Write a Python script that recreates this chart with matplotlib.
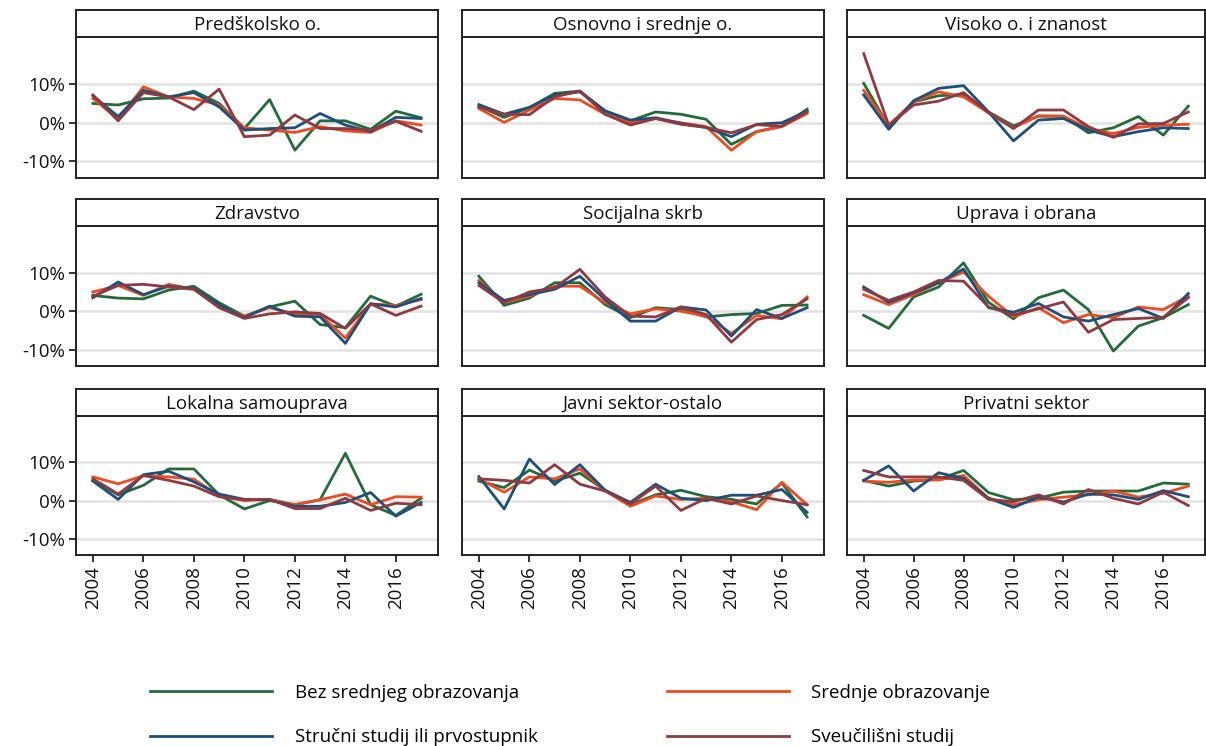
import matplotlib
import matplotlib.pyplot as plt

matplotlib.use('Agg')
plt.rcParams['font.family'] = ['Open Sans', 'DejaVu Sans']

years = list(range(2004, 2018))
panels = ['Predškolsko o.', 'Osnovno i srednje o.', 'Visoko o. i znanost',
          'Zdravstvo', 'Socijalna skrb', 'Uprava i obrana',
          'Lokalna samouprava', 'Javni sektor-ostalo', 'Privatni sektor']
series = ['Bez srednjeg obrazovanja', 'Srednje obrazovanje',
          'Stručni studij ili prvostupnik', 'Sveučilišni studij']
colors = ['#236b3b', '#ee4b22', '#1d4f7a', '#8e3a42']

# growth in %, order: bez, srednje, strucni, sveucilisni
predskolsko = [
    [5.0, 4.6, 6.2, 6.4, 8.2, 5.0, -1.5, 6.0, -7.1, 0.5, 0.5, -1.7, 3.0, 1.3],
    [6.3, 0.9, 9.3, 6.7, 6.3, 4.6, -1.3, -1.9, -2.5, -1.0, -2.1, -2.5, 0.5, -0.6],
    [7.0, 1.6, 8.4, 6.7, 7.8, 4.1, -1.9, -1.5, -1.3, 2.4, -0.6, -2.3, 1.4, 1.1],
    [7.2, 0.5, 7.8, 6.7, 3.4, 8.7, -3.6, -3.2, 2.0, -1.5, -1.5, -1.9, 0.4, -2.2],
]
osnovno = [
    [4.3, 1.4, 3.9, 7.6, 8.2, 3.0, 0.5, 2.8, 2.2, 0.9, -5.6, -2.3, -0.9, 3.5],
    [3.7, 0.1, 3.3, 6.3, 5.9, 2.2, 0.0, 1.1, 0.0, -1.0, -7.1, -2.3, -1.0, 2.4],
    [4.7, 2.2, 4.0, 7.2, 8.0, 3.1, 0.7, 1.3, -0.2, -1.2, -3.6, -0.4, 0.0, 3.0],
    [4.0, 2.2, 2.1, 6.7, 8.2, 2.2, -0.6, 1.1, -0.4, -1.2, -2.6, -0.5, -0.9, 2.8],
]
visoko = [
    [10.2, -1.0, 5.4, 7.0, 7.3, 2.8, -0.8, 1.7, 1.7, -2.6, -1.3, 1.6, -3.2, 4.3],
    [8.4, -0.6, 5.4, 8.0, 6.7, 2.6, -1.3, 1.8, 1.7, -1.5, -2.8, -1.2, -0.6, -0.4],
    [7.2, -1.7, 5.7, 8.9, 9.6, 2.8, -4.7, 0.7, 1.1, -1.9, -3.6, -2.3, -1.3, -1.5],
    [17.9, -0.6, 4.6, 5.6, 7.8, 2.6, -1.5, 3.3, 3.3, -1.0, -3.8, -0.3, -0.2, 2.8],
]
zdravstvo = [
    [4.1, 3.4, 3.2, 5.5, 6.5, 2.2, -1.3, 1.1, 2.6, -3.5, -4.3, 3.9, 1.3, 4.4],
    [5.0, 6.7, 4.1, 7.0, 5.7, 1.3, -1.3, 0.9, -0.7, -0.9, -7.0, 1.9, 1.5, 3.0],
    [3.5, 7.6, 4.3, 6.5, 5.9, 1.7, -1.7, 1.3, -1.3, -1.5, -8.4, 1.9, 1.1, 3.3],
    [3.9, 6.7, 7.0, 6.3, 5.7, 0.9, -1.9, -0.7, -0.2, -0.6, -4.5, 1.9, -1.1, 1.3],
]
socijalna = [
    [9.1, 1.5, 3.4, 7.4, 7.4, 1.7, -1.7, 0.9, 0.4, -1.5, -0.9, -0.6, 1.5, 1.6],
    [8.0, 2.3, 3.9, 6.5, 6.5, 2.2, -0.7, 0.6, 0.0, -1.3, -5.8, -1.1, -2.0, 3.7],
    [7.4, 2.8, 4.3, 5.7, 9.1, 3.0, -2.6, -2.6, 1.1, 0.3, -6.5, 0.4, -1.9, 0.9],
    [6.7, 2.2, 5.0, 6.1, 10.9, 3.7, -1.3, -1.5, 1.1, -0.9, -8.1, -2.2, -0.9, 3.2],
]
uprava = [
    [-1.1, -4.5, 3.7, 6.3, 12.6, 2.3, -2.0, 3.5, 5.5, 0.4, -10.4, -3.9, -1.7, 1.7],
    [4.3, 1.7, 4.3, 7.4, 10.2, 3.9, -1.5, 0.9, -3.0, -0.9, -1.7, 1.1, 0.4, 3.9],
    [6.3, 2.3, 4.8, 7.4, 11.0, 0.9, -0.3, 2.0, -1.5, -2.6, -0.9, 0.7, -1.9, 4.6],
    [5.7, 2.8, 5.0, 8.0, 7.8, 1.1, -1.0, 0.6, 2.4, -5.5, -2.2, -1.9, -1.6, 3.5],
]
lokalna = [
    [5.3, 1.5, 4.0, 8.3, 8.3, 1.5, -2.2, 0.0, -1.1, 0.2, 12.4, -1.1, -3.9, 0.6],
    [6.2, 4.4, 6.5, 6.2, 5.6, 1.2, 0.0, 0.3, -1.1, 0.2, 1.7, -1.1, 1.0, 0.9],
    [5.1, 0.3, 6.8, 7.7, 4.9, 1.7, 0.3, 0.2, -1.5, -1.5, -0.5, 2.1, -4.1, -0.5],
    [5.7, 1.7, 6.6, 5.3, 3.8, 1.0, 0.2, 0.3, -2.1, -2.1, 0.6, -2.6, -0.7, -1.1],
]
javni_ostalo = [
    [5.1, 3.4, 8.0, 5.1, 7.2, 2.7, -1.1, 1.5, 2.7, 1.0, 0.3, -0.9, 4.6, -4.3],
    [5.7, 2.2, 6.2, 5.7, 8.3, 2.6, -1.5, 1.2, 0.3, 0.6, -0.3, -2.4, 4.8, -1.1],
    [6.3, -2.2, 10.9, 4.2, 9.4, 2.7, -0.5, 4.3, 0.6, 0.0, 1.4, 1.4, 2.9, -3.1],
    [5.7, 5.3, 4.6, 9.4, 4.3, 2.5, -0.9, 3.8, -2.6, 0.6, -0.9, 1.2, 0.0, -1.1],
]
privatni = [
    [5.3, 3.8, 5.1, 5.6, 7.9, 2.1, 0.2, 0.6, 2.2, 2.5, 2.5, 2.5, 4.6, 4.3],
    [5.1, 4.8, 5.4, 5.4, 6.6, 0.6, -1.1, 0.2, 0.9, 1.5, 2.5, 0.9, 1.9, 3.8],
    [5.3, 9.1, 2.5, 7.3, 5.8, 0.6, -1.8, 0.9, -0.4, 1.7, 1.5, 0.3, 2.6, 1.0],
    [7.9, 6.2, 6.2, 6.2, 5.3, 0.3, -0.3, 1.5, -0.9, 2.9, 0.6, -0.9, 2.2, -1.3],
]
panel_data = [predskolsko, osnovno, visoko, zdravstvo, socijalna, uprava,
              lokalna, javni_ostalo, privatni]

W, H = 1206, 746
fig = plt.figure(figsize=(W / 100, H / 100), dpi=100)


def px_axes(left, top, width, height):
    return fig.add_axes([left / W, 1 - (top + height) / H, width / W, height / H])


col_left = [76, 462, 847]
col_width = [362, 362, 358]
row_top = [37, 226, 416]
row_height = [141, 140, 139]
strip_h = 27
fs = 13.5

handles = []
for i, (title, data) in enumerate(zip(panels, panel_data)):
    r, c = divmod(i, 3)
    ax = px_axes(col_left[c], row_top[r], col_width[c], row_height[r])
    for vals, color, name in zip(data, colors, series):
        ln, = ax.plot(years, vals, color=color, lw=2.0, label=name, zorder=3)
        if i == 0:
            handles.append(ln)
    ax.set_xlim(2003.33, 2017.67)
    ax.set_ylim(-14.3, 22.2)
    ax.set_yticks([-10, 0, 10])
    ax.set_yticklabels(['-10%', '0%', '10%'])
    ax.set_xticks(range(2004, 2017, 2))
    ax.set_xticklabels([str(y) for y in range(2004, 2017, 2)], rotation=90)
    ax.grid(axis='y', color='#e2e2e2', lw=1.8, zorder=0)
    ax.tick_params(labelsize=fs, length=5, width=1.2, colors='#111111', pad=3)
    if c != 0:
        ax.tick_params(axis='y', left=False, labelleft=False)
    if r != 2:
        ax.tick_params(axis='x', bottom=False, labelbottom=False)
    for sp in ax.spines.values():
        sp.set_linewidth(1.4)
        sp.set_color('#222222')

    strip = px_axes(col_left[c], row_top[r] - strip_h, col_width[c], strip_h)
    strip.set_xticks([])
    strip.set_yticks([])
    for sp in strip.spines.values():
        sp.set_linewidth(1.4)
        sp.set_color('#222222')
    strip.text(0.5, 0.46, title, ha='center', va='center', fontsize=fs,
               transform=strip.transAxes, color='#111111')

# column-first fill: left column Bez / Strucni, right column Srednje / Sveucilisni
order = [0, 2, 1, 3]
fig.legend([handles[k] for k in order], [series[k] for k in order],
           loc='center', ncol=2, bbox_to_anchor=(0.473, 1 - 715 / H),
           frameon=False, fontsize=fs, handlelength=6.5, handletextpad=1.2,
           columnspacing=6.9, labelspacing=1.4)

plt.savefig('out.png', dpi=100)
